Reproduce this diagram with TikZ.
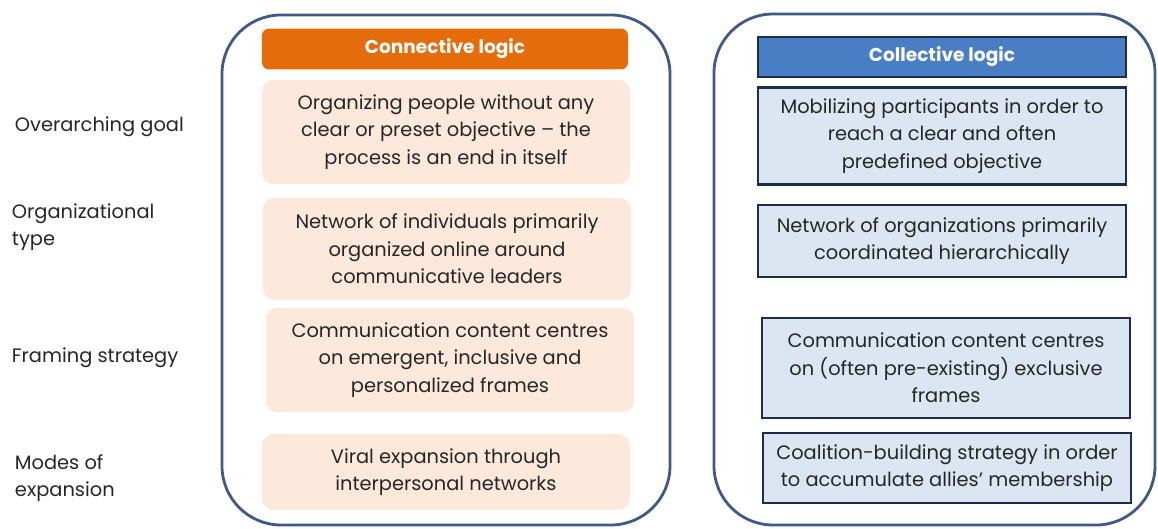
\documentclass[tikz,border=0pt]{standalone}
\usepackage{fontspec}
\setmainfont{Poppins}
\usepackage{tikz}
\usetikzlibrary{positioning}
\definecolor{frameblue}{HTML}{3F5A84}
\definecolor{connorange}{HTML}{E46C0A}
\definecolor{connpeach}{HTML}{FCE9DC}
\definecolor{collblue}{HTML}{4A7EC4}
\definecolor{collpale}{HTML}{DCE6F2}
\definecolor{collnavy}{HTML}{1C2E4A}
\definecolor{txtgrey}{HTML}{262626}

\begin{document}
\begin{tikzpicture}[x=0.025cm, y=-0.025cm,
    every node/.style={font=\fontsize{13.8}{19.5}\selectfont, text=txtgrey},
    logicframe/.style={draw=frameblue, line width=2pt, rounded corners=42},
    connhead/.style={rectangle, rounded corners=5pt, fill=connorange, text=white, font=\fontsize{13.2}{15}\selectfont\bfseries, minimum width=9.15cm, minimum height=1.02cm},
    conncell/.style={rectangle, rounded corners=8pt, fill=connpeach, align=center, minimum width=9.2cm},
    collhead/.style={rectangle, draw=collnavy, line width=1.4pt, fill=collblue, text=white, font=\fontsize{13.2}{15}\selectfont\bfseries, minimum width=9.2cm, minimum height=0.98cm},
    collcell/.style={rectangle, draw=collnavy, line width=1.6pt, fill=collpale, align=center, minimum width=9.2cm},
    rowlabel/.style={anchor=west, align=left}]

  \useasboundingbox (0,0) rectangle (1158,528);

  % the two big frames
  \draw[logicframe] (222,15) rectangle (670,525);
  \draw[logicframe] (714,14) rectangle (1155,525);

  % row labels
  \node[rowlabel] (goal)  at (10,127) {Overarching goal};
  \node[rowlabel] (otype) at (7,227) {Organizational\\type};
  \node[rowlabel] (frame) at (7,358) {Framing strategy};
  \node[rowlabel] (modes) at (10,478) {Modes of\\expansion};

  % connective logic
  \node[connhead] (connh) at (445,49) {Connective logic};
  \node[conncell, minimum height=2.6cm] (conn1) at (446,132) {Organizing people without any\\clear or preset objective -- the\\process is an end in itself};
  \node[conncell, minimum height=2.55cm] (conn2) at (447,249) {Network of individuals primarily\\organized online around\\communicative leaders};
  \node[conncell, minimum height=2.6cm] (conn3) at (450,360) {Communication content centres\\on emergent, inclusive and\\personalized frames};
  \node[conncell, minimum height=1.9cm] (conn4) at (446,472) {Viral expansion through\\interpersonal networks};

  % collective logic
  \node[collhead] (collh) at (942,57) {Collective logic};
  \node[collcell, minimum height=2.42cm] (coll1) at (942,136) {Mobilizing participants in order to\\reach a clear and often\\predefined objective};
  \node[collcell, minimum height=1.8cm] (coll2) at (942,241) {Network of organizations primarily\\coordinated hierarchically};
  \node[collcell, minimum height=2.5cm] (coll3) at (946,368) {Communication content centres\\on (often pre-existing) exclusive\\frames};
  \node[collcell, minimum height=1.75cm] (coll4) at (947,468) {Coalition-building strategy in order\\to accumulate allies' membership};
\end{tikzpicture}
\end{document}
